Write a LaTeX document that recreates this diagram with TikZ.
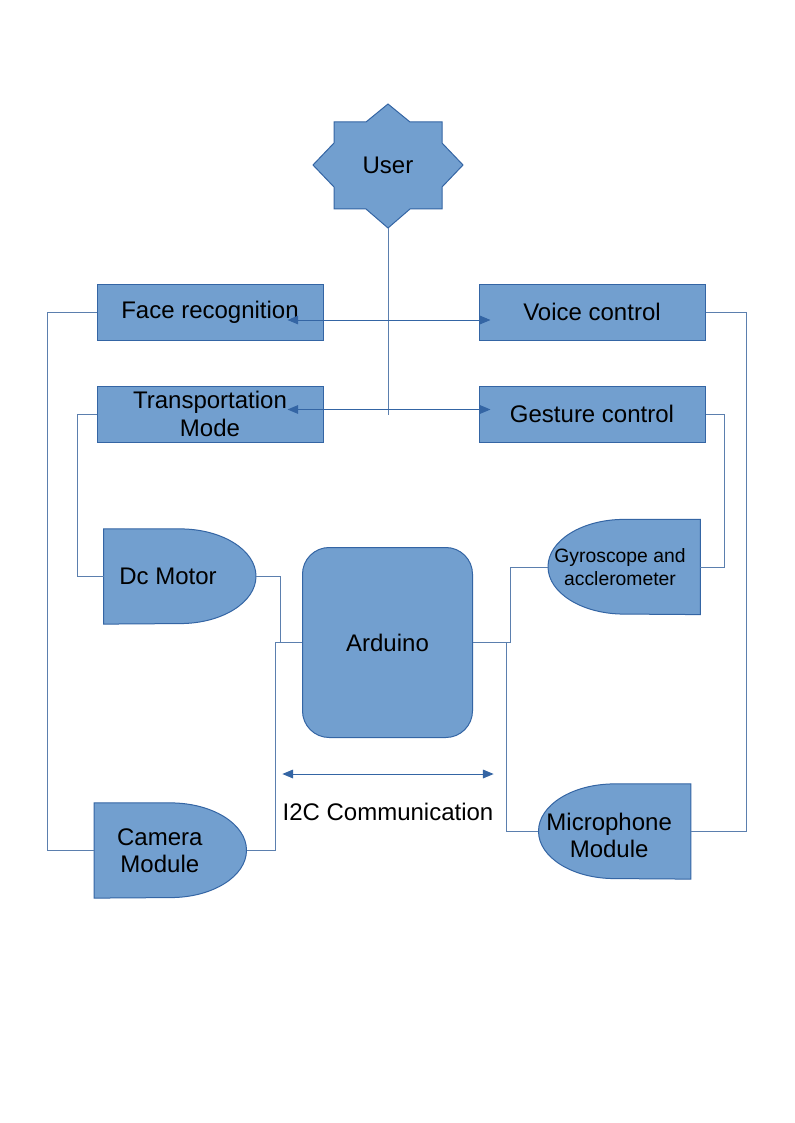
\documentclass[tikz,border=0pt]{standalone}
\usepackage{fontspec}
\setmainfont{Liberation Sans}
\usetikzlibrary{arrows.meta,calc,backgrounds}

\definecolor{boxfill}{HTML}{729FCF}
\definecolor{boxline}{HTML}{3465A4}
\definecolor{wireclr}{HTML}{5B7FAE}

\tikzset{
  blk/.style={rectangle, draw=boxline, fill=boxfill, line width=0.75pt, minimum width=169.5pt, minimum height=42pt, inner sep=0pt, font=\fontsize{18}{20.5}\selectfont, align=center},
  gate/.style={rectangle, minimum width=114pt, minimum height=71pt, inner sep=0pt},
  gatetext/.style={font=\fontsize{18}{20}\selectfont, align=center},
  shp/.style={draw=boxline, fill=boxfill, line width=0.75pt},
  wire/.style={draw=wireclr, line width=0.6pt},
  arr/.style={draw=boxline, line width=0.75pt, -{Triangle[length=8pt,width=6.5pt]}},
}

\begin{document}
\begin{tikzpicture}[x=0.75pt, y=-0.75pt]
    \node[font=\fontsize{18}{20}\selectfont] (user) at (388,165) {User};
    \coordinate (tip) at (388,228);
    \coordinate (tend) at (388,415);
    \coordinate (j1) at (388,320);
    \coordinate (j2) at (388,409.5);

    \node[blk] (face) at (210,312) {Face recognition};
    \node[blk] (voice) at (592,312) {Voice control};
    \node[blk] (trans) at (210,414) {Transportation\\Mode};
    \node[blk] (gest) at (592,414) {Gesture control};

    \node[shp, rounded corners=20pt, minimum width=127.5pt, minimum height=142.5pt, font=\fontsize{18}{20}\selectfont] (ard) at (387.5,642.5) {Arduino};

    \node[gate, label={[gatetext,xshift=-9pt]center:Dc Motor}] (dcm) at (180,576.5) {};
    \node[gate, label={[gatetext,xshift=-8pt]center:Camera\\Module}] (cam) at (170.5,850.5) {};
    \node[gate, label={[gatetext,font=\fontsize{14.5}{17}\selectfont,xshift=-3pt]center:Gyroscope and\\acclerometer}] (gyro) at (624,567) {};
    \node[gate, label={[gatetext,xshift=-4pt,yshift=-3pt]center:Microphone\\Module}] (mic) at (614.5,831.5) {};

    \node[font=\fontsize{18}{20}\selectfont, inner sep=0pt] (i2c) at (388,812) {I2C Communication};

    \begin{scope}[on background layer]
        \fill[white] (0,0) rectangle (794,1123);
        \draw[shp] (334,122) -- (366,122) -- (388,104) -- (410,122) -- (442,122) -- (442,143) -- (463,165) -- (442,187)
            -- (442,209) -- (410,209) -- (388,228) -- (366,209) -- (334,209) -- (334,187) -- (313,165) -- (334,143) -- cycle;
        \draw[shp] (dcm.north west) -- (dcm.north) arc[start angle=90, end angle=-90, x radius=57pt, y radius=35.5pt] -- (dcm.south west) -- cycle;
        \draw[shp] (cam.north west) -- (cam.north) arc[start angle=90, end angle=-90, x radius=57pt, y radius=35.5pt] -- (cam.south west) -- cycle;
        \draw[shp] (gyro.north east) -- (gyro.north) arc[start angle=90, end angle=270, x radius=57pt, y radius=35.5pt] -- (gyro.south east) -- cycle;
        \draw[shp] (mic.north east) -- (mic.north) arc[start angle=90, end angle=270, x radius=57pt, y radius=35.5pt] -- (mic.south east) -- cycle;
    \end{scope}

    \draw[wire] (tip) -- (tend);
    \draw[arr] (j1) -- ($(j1 -| face.east)+(-36,0)$);
    \draw[arr] (j1) -- ($(j1 -| voice.west)+(12,0)$);
    \draw[arr] (j2) -- ($(j2 -| trans.east)+(-36,0)$);
    \draw[arr] (j2) -- ($(j2 -| gest.west)+(12,0)$);

    \draw[wire] (face.west) -- ++(-49,0) |- (cam.west);
    \draw[wire] (trans.west) -- ++(-19,0) |- (dcm.west);
    \draw[wire] (dcm.east) -- ++(24,0) |- (ard.west);
    \draw[wire] (cam.east) -- ++(29,0) |- (ard.west);
    \draw[wire] (ard.east) -- ++(37,0) |- (gyro.west);
    \draw[wire] (ard.east) -- ++(33,0) |- (mic.west);
    \draw[wire] (gest.east) -- ++(19,0) |- (gyro.east);
    \draw[wire] (voice.east) -- ++(41,0) |- (mic.east);

    \draw[arr, {Triangle[length=8pt,width=6.5pt]}-{Triangle[length=8pt,width=6.5pt]}] ([yshift=28.5pt]i2c.west) -- ([yshift=28.5pt]i2c.east);
\end{tikzpicture}
\end{document}
